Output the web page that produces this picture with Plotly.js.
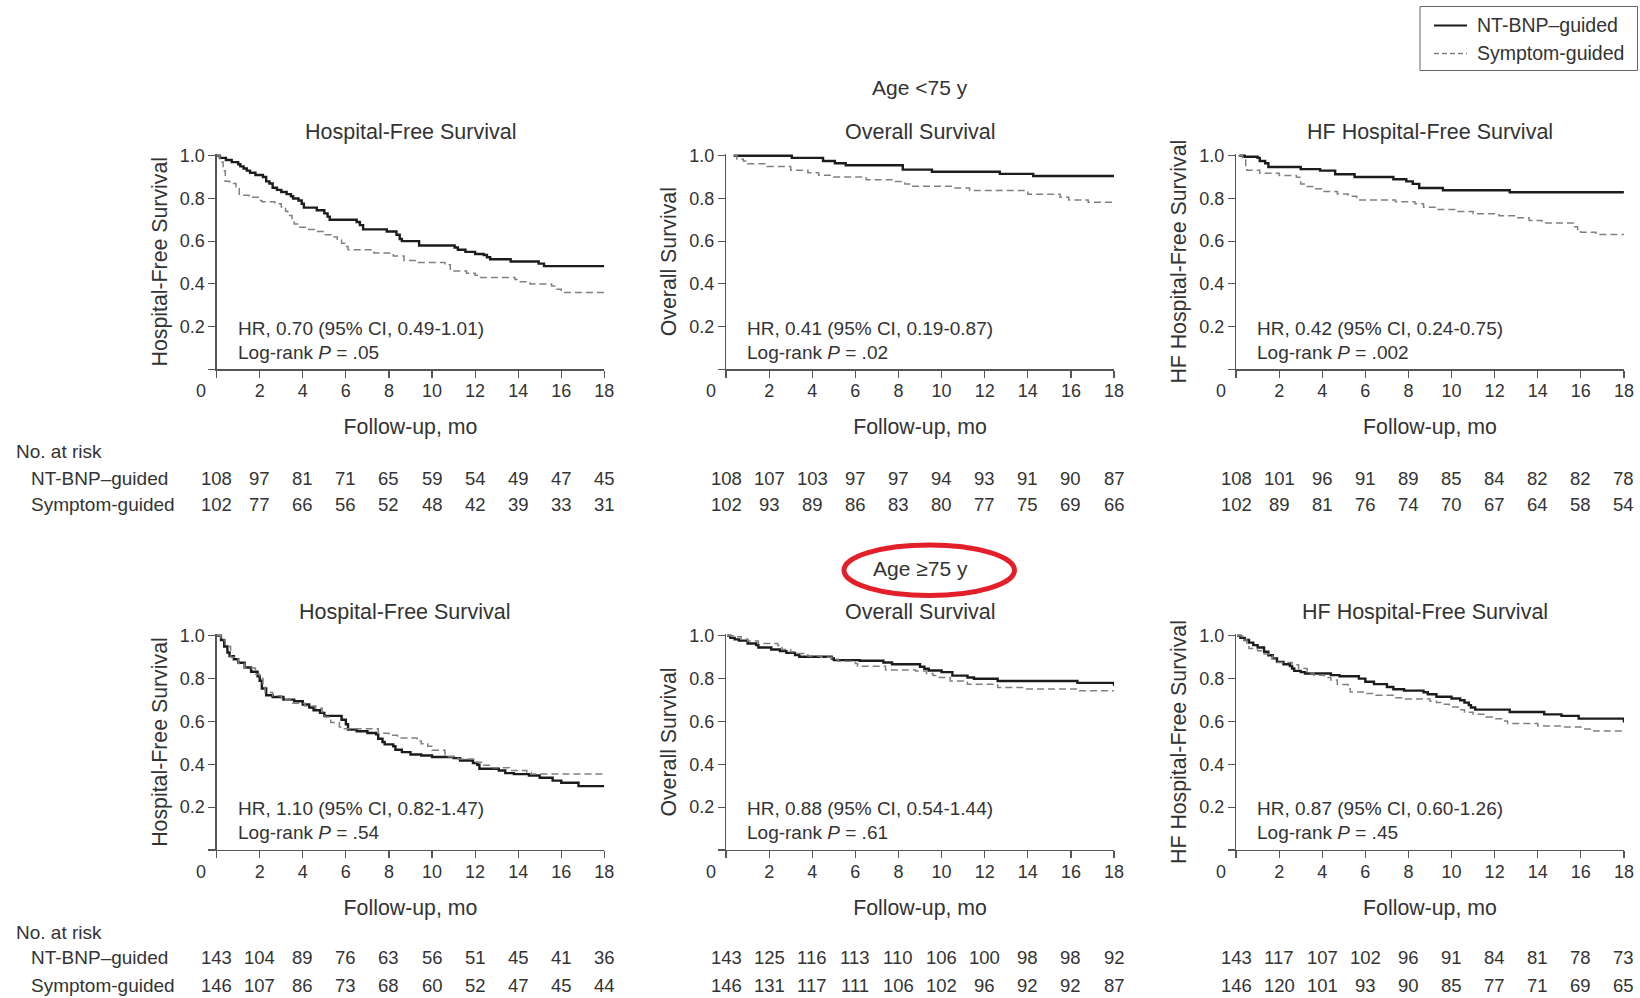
<!DOCTYPE html>
<html>
<head>
<meta charset="utf-8">
<script src="https://cdn.plot.ly/plotly-3.0.1.min.js"></script>
<style>
  html, body { margin: 0; padding: 0; background: #fff; }
  #chart { width: 1640px; height: 998px; }
</style>
</head>
<body>
<div id="chart"></div>
<script>
// Kaplan-Meier step curves: event times (months) and survival estimates.
// Age < 75 y
const hfsYoungNtT  = [0, 0.15, 0.43, 0.7, 1.0, 1.1, 1.25, 1.4, 1.55, 1.8, 2.15, 2.3, 2.45, 2.6, 2.8, 3.0, 3.25, 3.45, 3.55, 3.8, 3.95, 4.05, 4.65, 5.0, 5.15, 5.25, 6.5, 6.65, 6.8, 7.9, 8.35, 8.5, 8.6, 9.4, 11.05, 11.2, 11.55, 12.0, 12.4, 12.55, 12.7, 13.65, 14.95, 15.2, 18];
const hfsYoungNtS  = [1, 0.99, 0.98, 0.97, 0.96, 0.95, 0.94, 0.93, 0.92, 0.91, 0.90, 0.88, 0.87, 0.85, 0.84, 0.83, 0.82, 0.81, 0.80, 0.79, 0.775, 0.757, 0.745, 0.73, 0.715, 0.70, 0.69, 0.675, 0.655, 0.645, 0.63, 0.61, 0.60, 0.58, 0.57, 0.56, 0.55, 0.54, 0.535, 0.525, 0.515, 0.505, 0.495, 0.483, 0.483];
const hfsYoungSymT = [0, 0.15, 0.3, 0.4, 0.6, 0.9, 1.05, 1.5, 2.0, 2.1, 2.7, 3.0, 3.2, 3.3, 3.5, 3.6, 3.8, 4.2, 4.6, 5.0, 5.3, 5.6, 5.8, 5.95, 6.1, 7.3, 8.2, 8.7, 9.3, 10.6, 10.85, 11.6, 12.0, 12.15, 13.85, 14.1, 14.55, 15.55, 15.8, 16.0, 18];
const hfsYoungSymS = [1, 0.97, 0.93, 0.88, 0.87, 0.855, 0.815, 0.805, 0.79, 0.785, 0.775, 0.76, 0.74, 0.72, 0.70, 0.68, 0.665, 0.655, 0.645, 0.63, 0.62, 0.605, 0.59, 0.575, 0.56, 0.545, 0.53, 0.51, 0.50, 0.49, 0.46, 0.45, 0.44, 0.43, 0.42, 0.41, 0.40, 0.39, 0.375, 0.36, 0.36];

const osYoungNtT  = [0.35, 3.05, 4.5, 5.05, 5.55, 8.2, 9.55, 12.7, 14.25, 18];
const osYoungNtS  = [1.0, 0.99, 0.975, 0.965, 0.955, 0.935, 0.925, 0.915, 0.905, 0.905];
const osYoungSymT = [0.35, 0.5, 0.8, 1.0, 1.9, 3.0, 3.8, 4.3, 4.9, 6.5, 7.8, 8.3, 8.6, 10.5, 11.3, 14.0, 15.5, 15.9, 16.8, 18];
const osYoungSymS = [1.0, 0.985, 0.975, 0.962, 0.95, 0.932, 0.92, 0.908, 0.90, 0.888, 0.879, 0.868, 0.857, 0.849, 0.837, 0.82, 0.806, 0.793, 0.782, 0.782];

const hfYoungNtT  = [0.15, 0.4, 1.0, 1.1, 1.35, 1.5, 3.0, 3.9, 4.6, 5.5, 7.3, 7.9, 8.2, 8.5, 9.6, 12.7, 18];
const hfYoungNtS  = [1.0, 0.995, 0.99, 0.975, 0.965, 0.947, 0.937, 0.93, 0.913, 0.90, 0.89, 0.88, 0.868, 0.849, 0.838, 0.829, 0.829];
const hfYoungSymT = [0.1, 0.3, 0.45, 0.5, 1.1, 2.0, 2.8, 3.0, 3.3, 3.7, 4.0, 4.7, 5.2, 5.6, 7.4, 8.3, 8.7, 9.3, 10.3, 11.0, 12.2, 13.0, 13.6, 14.2, 15.7, 15.85, 16.0, 16.7, 18];
const hfYoungSymS = [1.0, 0.99, 0.95, 0.932, 0.918, 0.907, 0.899, 0.868, 0.856, 0.845, 0.832, 0.821, 0.81, 0.793, 0.785, 0.775, 0.759, 0.748, 0.739, 0.728, 0.719, 0.709, 0.697, 0.685, 0.668, 0.655, 0.642, 0.631, 0.631];

// Age >= 75 y
const hfsOldNtT  = [0, 0.2, 0.35, 0.5, 0.6, 0.8, 1.0, 1.3, 1.6, 1.9, 2.0, 2.1, 2.3, 2.6, 3.1, 3.6, 4.0, 4.3, 4.5, 4.8, 5.0, 5.8, 6.0, 6.1, 6.5, 7.0, 7.4, 7.5, 7.7, 7.8, 8.2, 8.3, 8.6, 9.0, 9.5, 10.0, 11.0, 11.3, 11.9, 12.1, 12.2, 13.1, 13.4, 13.8, 14.5, 15.0, 15.6, 16.0, 16.8, 18];
const hfsOldNtS  = [1, 0.98, 0.95, 0.922, 0.905, 0.89, 0.874, 0.852, 0.832, 0.811, 0.79, 0.754, 0.722, 0.714, 0.702, 0.694, 0.679, 0.665, 0.652, 0.64, 0.626, 0.608, 0.587, 0.562, 0.554, 0.546, 0.54, 0.519, 0.504, 0.493, 0.484, 0.468, 0.457, 0.446, 0.441, 0.434, 0.429, 0.418, 0.406, 0.398, 0.379, 0.371, 0.359, 0.354, 0.348, 0.337, 0.324, 0.314, 0.298, 0.298];
const hfsOldSymT = [0, 0.2, 0.4, 0.65, 1.0, 1.3, 1.8, 2.0, 2.15, 2.25, 2.6, 3.0, 3.2, 3.5, 4.1, 4.6, 4.9, 5.0, 5.3, 5.7, 5.8, 7.5, 8.0, 8.4, 9.3, 9.5, 9.8, 10.0, 10.6, 11.2, 12.0, 12.3, 12.8, 13.6, 14.4, 14.6, 18];
const hfsOldSymS = [1, 0.98, 0.95, 0.90, 0.87, 0.85, 0.82, 0.80, 0.76, 0.735, 0.72, 0.71, 0.70, 0.685, 0.672, 0.662, 0.645, 0.621, 0.595, 0.574, 0.566, 0.545, 0.535, 0.523, 0.509, 0.496, 0.484, 0.465, 0.435, 0.425, 0.41, 0.395, 0.384, 0.371, 0.362, 0.355, 0.355];

const osOldNtT  = [0.05, 0.2, 0.4, 0.6, 1.0, 1.4, 1.5, 2.1, 2.5, 2.8, 3.2, 3.4, 4.9, 5.0, 6.2, 7.3, 7.7, 9.0, 9.2, 9.4, 10.0, 10.5, 11.2, 11.5, 12.6, 16.3, 18];
const osOldNtS  = [1.0, 0.99, 0.983, 0.977, 0.964, 0.956, 0.945, 0.936, 0.928, 0.92, 0.91, 0.902, 0.894, 0.886, 0.883, 0.875, 0.867, 0.855, 0.846, 0.838, 0.83, 0.814, 0.805, 0.799, 0.789, 0.78, 0.765];
const osOldSymT = [0.05, 0.5, 0.7, 1.0, 1.5, 2.4, 2.6, 3.0, 3.3, 3.8, 4.4, 4.9, 5.2, 6.0, 6.1, 7.4, 8.8, 9.3, 9.6, 9.9, 10.4, 11.2, 12.6, 13.8, 16.4, 18];
const osOldSymS = [1.0, 0.995, 0.985, 0.975, 0.964, 0.955, 0.936, 0.925, 0.917, 0.905, 0.90, 0.89, 0.881, 0.87, 0.858, 0.84, 0.835, 0.824, 0.815, 0.805, 0.789, 0.774, 0.758, 0.752, 0.743, 0.743];

const hfOldNtT  = [0.05, 0.2, 0.4, 0.6, 0.8, 1.0, 1.3, 1.5, 1.7, 1.9, 2.2, 2.5, 2.6, 2.7, 3.0, 3.2, 4.4, 4.8, 5.7, 6.0, 6.4, 7.0, 7.3, 7.8, 8.7, 8.9, 9.3, 10.0, 10.4, 10.6, 10.8, 10.9, 11.1, 12.7, 14.3, 15.1, 15.9, 18];
const hfOldNtS  = [1.0, 0.99, 0.98, 0.968, 0.956, 0.945, 0.925, 0.909, 0.894, 0.878, 0.867, 0.858, 0.847, 0.836, 0.83, 0.824, 0.816, 0.811, 0.80, 0.785, 0.774, 0.761, 0.75, 0.744, 0.736, 0.727, 0.715, 0.707, 0.699, 0.688, 0.676, 0.665, 0.655, 0.644, 0.633, 0.626, 0.613, 0.595];
const hfOldSymT = [0.05, 0.3, 0.5, 0.6, 1.0, 1.3, 1.7, 1.9, 2.6, 2.9, 3.3, 3.6, 4.1, 4.4, 4.7, 5.2, 5.3, 6.0, 6.5, 7.3, 7.8, 9.0, 9.3, 9.5, 9.9, 10.3, 10.6, 11.0, 11.6, 12.0, 12.4, 12.6, 14.0, 15.2, 16.0, 16.6, 18];
const hfOldSymS = [1.0, 0.98, 0.96, 0.94, 0.93, 0.915, 0.89, 0.875, 0.865, 0.847, 0.826, 0.816, 0.805, 0.793, 0.772, 0.753, 0.738, 0.73, 0.722, 0.711, 0.705, 0.694, 0.688, 0.68, 0.668, 0.655, 0.643, 0.633, 0.621, 0.613, 0.602, 0.59, 0.579, 0.574, 0.565, 0.555, 0.555];

// Number-at-risk table
const riskMonths = [0, 2, 4, 6, 8, 10, 12, 14, 16, 18];
const riskHfsYoungNt  = [108, 97, 81, 71, 65, 59, 54, 49, 47, 45];
const riskHfsYoungSym = [102, 77, 66, 56, 52, 48, 42, 39, 33, 31];
const riskOsYoungNt   = [108, 107, 103, 97, 97, 94, 93, 91, 90, 87];
const riskOsYoungSym  = [102, 93, 89, 86, 83, 80, 77, 75, 69, 66];
const riskHfYoungNt   = [108, 101, 96, 91, 89, 85, 84, 82, 82, 78];
const riskHfYoungSym  = [102, 89, 81, 76, 74, 70, 67, 64, 58, 54];
const riskHfsOldNt    = [143, 104, 89, 76, 63, 56, 51, 45, 41, 36];
const riskHfsOldSym   = [146, 107, 86, 73, 68, 60, 52, 47, 45, 44];
const riskOsOldNt     = [143, 125, 116, 113, 110, 106, 100, 98, 98, 92];
const riskOsOldSym    = [146, 131, 117, 111, 106, 102, 96, 92, 92, 87];
const riskHfOldNt     = [143, 117, 107, 102, 96, 91, 84, 81, 78, 73];
const riskHfOldSym    = [146, 120, 101, 93, 90, 85, 77, 71, 69, 65];

// Panel text
const seriesNames = ['NT-BNP\u2013guided', 'Symptom-guided'];
const panelTitles = ['Hospital-Free Survival', 'Overall Survival', 'HF Hospital-Free Survival',
                     'Hospital-Free Survival', 'Overall Survival', 'HF Hospital-Free Survival'];
const hrLabels = ['HR, 0.70 (95% CI, 0.49-1.01)', 'HR, 0.41 (95% CI, 0.19-0.87)', 'HR, 0.42 (95% CI, 0.24-0.75)',
                  'HR, 1.10 (95% CI, 0.82-1.47)', 'HR, 0.88 (95% CI, 0.54-1.44)', 'HR, 0.87 (95% CI, 0.60-1.26)'];
const pValues = ['.05', '.02', '.002', '.54', '.61', '.45'];
const groupLabels = ['Age <75 y', 'Age \u226575 y'];
const yTickVals = [0, 0.2, 0.4, 0.6, 0.8, 1.0];
const yTickText = ['', '0.2', '0.4', '0.6', '0.8', '1.0'];

const curves = [
  [hfsYoungNtT, hfsYoungNtS, hfsYoungSymT, hfsYoungSymS],
  [osYoungNtT, osYoungNtS, osYoungSymT, osYoungSymS],
  [hfYoungNtT, hfYoungNtS, hfYoungSymT, hfYoungSymS],
  [hfsOldNtT, hfsOldNtS, hfsOldSymT, hfsOldSymS],
  [osOldNtT, osOldNtS, osOldSymT, osOldSymS],
  [hfOldNtT, hfOldNtS, hfOldSymT, hfOldSymS]
];
const riskRows = [
  [riskHfsYoungNt, riskHfsYoungSym], [riskOsYoungNt, riskOsYoungSym], [riskHfYoungNt, riskHfYoungSym],
  [riskHfsOldNt, riskHfsOldSym], [riskOsOldNt, riskOsOldSym], [riskHfOldNt, riskHfOldSym]
];

// Layout geometry
const FONT = 'Liberation Sans, Arial, Helvetica, sans-serif';
const INK = '#333333';
const AXIS = '#555555';
const SOLID = '#1c1c1c';
const DASHED = '#808080';
const W = 1640, H = 998;
const xDomains = [[0.1321, 0.3685], [0.4427, 0.6793], [0.7537, 0.9902]];
const yDomains = [[0.6299, 0.8457], [0.1483, 0.3647]];
const titleShift = [0, 0, 0, -5.5, 0, -5];
const riskRowY = [[0.5473, 0.5210, 0.4940], [0.0661, 0.0401, 0.0130]];

const traces = [];
const layout = {
  width: W, height: H,
  margin: {l: 0, r: 0, t: 0, b: 0},
  paper_bgcolor: '#ffffff', plot_bgcolor: '#ffffff',
  font: {family: FONT, color: INK, size: 18},
  showlegend: false,
  annotations: [],
  shapes: []
};

for (let i = 0; i < 6; i++) {
  const row = Math.floor(i / 3), col = i % 3;
  const sfx = i === 0 ? '' : String(i + 1);
  const xa = 'x' + sfx, ya = 'y' + sfx;
  const c = curves[i];

  traces.push({
    x: c[0], y: c[1], xaxis: xa, yaxis: ya, type: 'scatter', mode: 'lines',
    name: seriesNames[0], legendgroup: 'nt',
    line: {shape: 'hv', color: SOLID, width: 2.4}, hoverinfo: 'skip'
  });
  traces.push({
    x: c[2], y: c[3], xaxis: xa, yaxis: ya, type: 'scatter', mode: 'lines',
    name: seriesNames[1], legendgroup: 'sym',
    line: {shape: 'hv', color: DASHED, width: 1.5, dash: '7px,4px'}, hoverinfo: 'skip'
  });

  layout['xaxis' + sfx] = {
    domain: xDomains[col], anchor: ya, range: [0, 18],
    showline: true, linecolor: AXIS, linewidth: 1.2,
    ticks: 'outside', ticklen: 7, tickwidth: 1.2, tickcolor: AXIS,
    tickvals: riskMonths, ticktext: riskMonths.map(m => (m === 0 ? '' : String(m))),
    tickfont: {family: FONT, size: 18, color: INK}, ticklabelstandoff: -2,
    showgrid: false, zeroline: false, fixedrange: true,
    title: {text: 'Follow-up, mo', font: {family: FONT, size: 21.3, color: INK}, standoff: 19}
  };
  layout['yaxis' + sfx] = {
    domain: yDomains[row], anchor: xa, range: [0, 1.008],
    showline: true, linecolor: AXIS, linewidth: 1.2,
    ticks: 'outside', ticklen: 7, tickwidth: 1.2, tickcolor: AXIS,
    tickvals: yTickVals, ticktext: yTickText,
    tickfont: {family: FONT, size: 18, color: INK},
    showgrid: false, zeroline: false, fixedrange: true,
    title: {text: panelTitles[i], font: {family: FONT, size: 21.3, color: INK}, standoff: 6}
  };

  const ann = layout.annotations;
  // shared origin label
  ann.push({text: '0', xref: xa, yref: ya, x: 0, y: 0, xshift: -15.5, yshift: -22,
            xanchor: 'center', yanchor: 'middle', showarrow: false, font: {size: 18, color: INK}});
  // panel title
  ann.push({text: panelTitles[i], xref: xa + ' domain', yref: ya + ' domain', x: 0.5, y: 1,
            xshift: titleShift[i], yshift: 22, xanchor: 'center', yanchor: 'middle', showarrow: false,
            font: {size: 21.5, color: INK}});
  // hazard ratio and log-rank test
  ann.push({text: hrLabels[i], xref: xa + ' domain', yref: ya + ' domain', x: 0, y: 0,
            xshift: 19, yshift: 41, xanchor: 'left', yanchor: 'middle', showarrow: false,
            font: {size: 19, color: INK}});
  ann.push({text: 'Log-rank <i>P</i> = ' + pValues[i], xref: xa + ' domain', yref: ya + ' domain', x: 0, y: 0,
            xshift: 19, yshift: 17, xanchor: 'left', yanchor: 'middle', showarrow: false,
            font: {size: 19, color: INK}});
  // numbers at risk
  for (let g = 0; g < 2; g++) {
    riskRows[i][g].forEach((n, k) => {
      ann.push({text: String(n), xref: xa, yref: 'paper', x: riskMonths[k], y: riskRowY[row][g + 1],
                xanchor: 'center', yanchor: 'middle', showarrow: false, font: {size: 18.5, color: INK}});
    });
  }
}

// Risk table row labels and age-group headings
for (let row = 0; row < 2; row++) {
  layout.annotations.push({text: 'No. at risk', xref: 'paper', yref: 'paper', x: 13.6 / W, y: riskRowY[row][0],
                           xanchor: 'left', yanchor: 'middle', showarrow: false, font: {size: 19, color: INK}});
  seriesNames.forEach((nm, g) => {
    layout.annotations.push({text: nm, xref: 'paper', yref: 'paper', x: 29.3 / W, y: riskRowY[row][g + 1],
                             xanchor: 'left', yanchor: 'middle', showarrow: false, font: {size: 19, color: INK}});
  });
}
layout.annotations.push({text: groupLabels[0], xref: 'x2 domain', yref: 'paper', x: 0.5, y: 0.9119,
                         xanchor: 'center', yanchor: 'middle', showarrow: false, font: {size: 21, color: INK}});
layout.annotations.push({text: groupLabels[1], xref: 'x5 domain', yref: 'paper', x: 0.5, y: 0.4299,
                         xanchor: 'center', yanchor: 'middle', showarrow: false, font: {size: 21, color: INK}});

// Highlight ring around the older age group heading
layout.shapes.push({type: 'circle', xref: 'paper', yref: 'paper',
                    x0: 0.5146, x1: 0.6186, y0: 0.4033, y1: 0.4539,
                    line: {color: '#e3202a', width: 5}, fillcolor: 'rgba(0,0,0,0)'});

// Key box in the top-right corner: frame, line samples and series names
const keyBox = {left: 1420, right: 1637.5, top: 6.5, bottom: 70.5};
const keyRows = [25, 53];
const px = v => v / W, py = v => (H - v) / H;
layout.shapes.push({type: 'rect', xref: 'paper', yref: 'paper',
                    x0: px(keyBox.left), x1: px(keyBox.right), y0: py(keyBox.bottom), y1: py(keyBox.top),
                    line: {color: '#666666', width: 1}, fillcolor: '#ffffff', layer: 'below'});
const keyStyles = [{color: SOLID, width: 2.2, dash: 'solid'}, {color: DASHED, width: 1.4, dash: '5px,3px'}];
keyRows.forEach((yy, g) => {
  layout.shapes.push({type: 'line', xref: 'paper', yref: 'paper',
                      x0: px(1434), x1: px(1467), y0: py(yy + 0.5), y1: py(yy + 0.5), line: keyStyles[g]});
  layout.annotations.push({text: seriesNames[g], xref: 'paper', yref: 'paper', x: px(1475), y: py(yy),
                           xanchor: 'left', yanchor: 'middle', showarrow: false, font: {size: 19.5, color: INK}});
});

Plotly.newPlot('chart', traces, layout, {staticPlot: true, displayModeBar: false});
</script>
</body>
</html>
